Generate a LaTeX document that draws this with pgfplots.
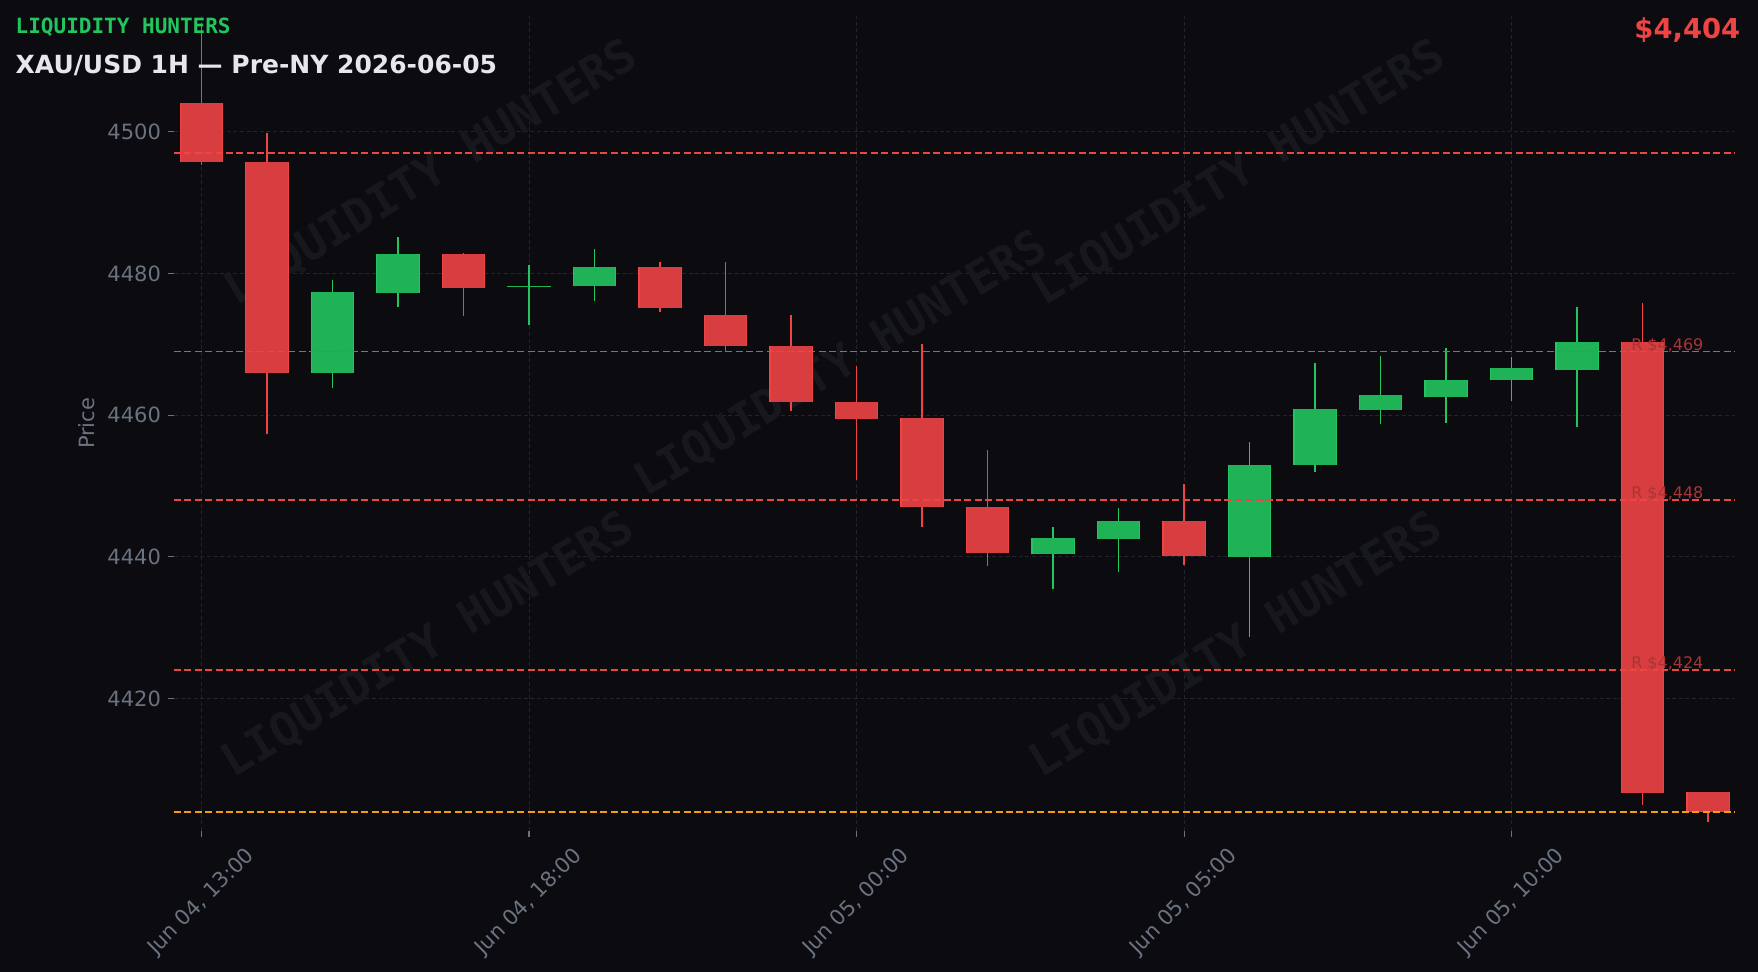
\documentclass[border=0pt]{standalone}
\usepackage{fontspec}
\setmainfont{DejaVu Sans}
\newfontfamily\monofont{DejaVu Sans Mono}
\usepackage{pgfplots}
\usepackage{pgfplotstable}
\pgfplotsset{compat=1.18}

\definecolor{bg}{HTML}{0B0B10}
\definecolor{upc}{HTML}{22C55E}
\definecolor{dnc}{HTML}{EF4444}
\definecolor{amber}{HTML}{F59E0B}
\definecolor{gridc}{HTML}{22232D}
\definecolor{tickc}{HTML}{6B7280}
\definecolor{titlec}{HTML}{E5E7EB}
\definecolor{wm}{HTML}{17171E}

% hourly candles, t = hours since Jun 04 13:00
% rising candles
\pgfplotstableread{
t  open    high    low     close
2  4466.0  4479.1  4463.8  4477.4
3  4477.3  4485.1  4475.3  4482.8
5  4478.1  4481.2  4472.7  4478.3
6  4478.2  4483.4  4476.1  4480.9
13 4440.4  4444.2  4435.4  4442.7
14 4442.5  4446.9  4437.8  4445.1
16 4440.0  4456.2  4428.7  4453.0
17 4452.9  4467.3  4452.0  4460.9
18 4460.8  4468.3  4458.7  4462.9
19 4462.6  4469.5  4458.9  4465.0
20 4464.9  4468.2  4462.0  4466.6
21 4466.4  4475.3  4458.3  4470.3
}\up
% falling candles
\pgfplotstableread{
t  open    high    low     close
0  4504.1  4515.3  4495.3  4495.7
1  4495.8  4499.9  4457.4  4466.0
4  4482.8  4482.9  4474.0  4478.0
7  4480.9  4481.6  4474.5  4475.2
8  4474.2  4481.6  4469.0  4469.8
9  4469.8  4474.1  4460.6  4461.8
10 4461.9  4466.9  4450.8  4459.5
11 4459.6  4470.0  4444.2  4447.0
12 4447.1  4455.1  4438.7  4440.5
15 4445.1  4450.3  4438.8  4440.1
22 4470.4  4475.8  4405.0  4406.6
23 4406.8  4406.8  4402.6  4404.0
}\dn

\pgfplotsset{
  seg/.style 2 args={#1, only marks, mark=*, mark size=0pt,
    mark options={draw=none, fill=none}, forget plot,
    error bars/.cd, y dir=plus, y explicit, error mark=none,
    error bar style={#1, line width=#2, solid}},
  level/.style={line width=0.75pt, dash pattern=on 3.5pt off 1.7pt},
}
\tikzset{
  wmark/.style={rotate=31, text=wm, font=\monofont\bfseries\fontsize{23}{27}\selectfont},
  lvllabel/.style={anchor=base west, inner sep=0, yshift=0.7pt, text=dnc!70!bg,
    font=\fontsize{8}{9}\selectfont},
}

\begin{document}
\begin{tikzpicture}
\path[use as bounding box, fill=bg] (-87pt,-70.5pt) rectangle (792pt,415.5pt);
\begin{axis}[
    at={(0,0)}, anchor=south west,
    width=780.5pt, height=407.65pt, scale only axis,
    xmin=-0.42, xmax=23.41, ymin=4401.3, ymax=4516.4,
    axis line style={draw=none},
    clip mode=individual,
    xtick={0,5,10,15,20},
    xticklabels={{Jun 04, 13:00},{Jun 04, 18:00},{Jun 05, 00:00},{Jun 05, 05:00},{Jun 05, 10:00}},
    ytick={4420,4440,4460,4480,4500},
    tick align=outside, xtick pos=bottom, ytick pos=left,
    major tick length=3pt,
    every tick/.style={color=tickc, line width=0.6pt},
    grid=major,
    major grid style={color=gridc, line width=0.5pt, dash pattern=on 2pt off 1.3pt},
    tick label style={color=tickc, font=\fontsize{10.5}{12}\selectfont},
    yticklabel style={/pgf/number format/1000 sep={}, /pgf/number format/assume math mode=true},
    % shifts are taken in the rotated frame: (-23,-23) moves the label straight down
    xticklabel style={rotate=45, anchor=center, xshift=-23pt, yshift=-23pt},
    ylabel={Price},
    every axis y label/.style={at={(rel axis cs:0,0.5)}, rotate=90, anchor=center,
      yshift=43.7pt, color=tickc, font=\fontsize{10.5}{12}\selectfont},
]
% watermark
\node[wmark] at (axis cs:3.51,4494.1) {LIQUIDITY HUNTERS};
\node[wmark] at (axis cs:9.76,4467.2) {LIQUIDITY HUNTERS};
\node[wmark] at (axis cs:15.84,4494.1) {LIQUIDITY HUNTERS};
\node[wmark] at (axis cs:3.46,4427.5) {LIQUIDITY HUNTERS};
\node[wmark] at (axis cs:15.79,4427.5) {LIQUIDITY HUNTERS};

% wicks: low -> high
\addplot[seg={upc}{0.8pt}] table[x=t, y=low, y error expr=\thisrow{high}-\thisrow{low}] {\up};
\addplot[seg={dnc}{0.8pt}] table[x=t, y=low, y error expr=\thisrow{high}-\thisrow{low}] {\dn};
% bodies: open -> close, edge colour then fill
\addplot[seg={upc}{21.85pt}] table[x=t, y=open, y error expr=\thisrow{close}-\thisrow{open}] {\up};
\addplot[seg={upc!90!bg}{20.55pt}] table[x=t, y=open, y error expr=\thisrow{close}-\thisrow{open}] {\up};
\addplot[seg={dnc}{21.85pt}] table[x=t, y=close, y error expr=\thisrow{open}-\thisrow{close}] {\dn};
\addplot[seg={dnc!90!bg}{20.55pt}] table[x=t, y=close, y error expr=\thisrow{open}-\thisrow{close}] {\dn};

% levels
\addplot[dnc, level] coordinates {(-0.42,4497) (23.41,4497)};
\addplot[dnc, level] coordinates {(-0.42,4469) (23.41,4469)};
\addplot[dnc, level] coordinates {(-0.42,4448) (23.41,4448)};
\addplot[dnc, level] coordinates {(-0.42,4424) (23.41,4424)};
\addplot[amber, level] coordinates {(-0.42,4404) (23.41,4404)};

\node[lvllabel] at (axis cs:21.82,4469) {R \$4,469};
\node[lvllabel] at (axis cs:21.82,4448) {R \$4,448};
\node[lvllabel] at (axis cs:21.82,4424) {R \$4,424};
\end{axis}

\node[anchor=base west, inner sep=0, text=upc, font=\monofont\bfseries\fontsize{10.5}{12}\selectfont]
  at (-79.35pt,398.8pt) {LIQUIDITY HUNTERS};
\node[anchor=base west, inner sep=0, text=titlec, font=\bfseries\fontsize{12.5}{15}\selectfont]
  at (-79.35pt,378.8pt) {XAU/USD 1H — Pre-NY 2026-06-05};
\node[anchor=base east, inner sep=0, text=dnc, font=\bfseries\fontsize{13.7}{16}\selectfont]
  at (783.3pt,396.3pt) {\$4,404};
\end{tikzpicture}
\end{document}
